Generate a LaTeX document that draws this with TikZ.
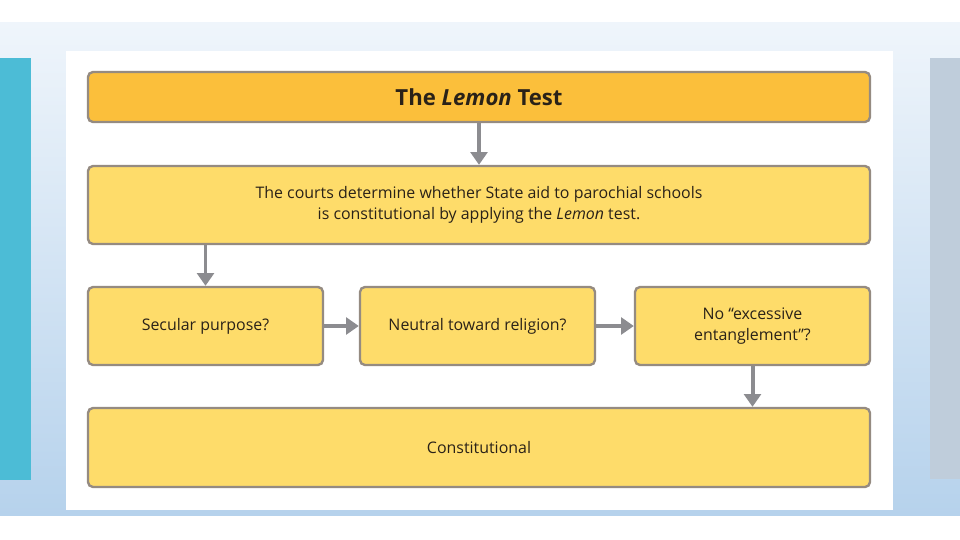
\documentclass[tikz,border=0pt]{standalone}
\usepackage{fontspec}
\setmainfont{Open Sans}
\usetikzlibrary{arrows.meta,calc}
\definecolor{bgtop}{HTML}{EFF5FB}
\definecolor{bgbot}{HTML}{B6D2EC}
\definecolor{tealbar}{HTML}{4CBCD6}
\definecolor{graybar}{HTML}{BFCDDB}
\definecolor{titlefill}{HTML}{FBBF3B}
\definecolor{boxfill}{HTML}{FEDC6A}
\definecolor{boxline}{HTML}{958B81}
\definecolor{arrowgray}{HTML}{8C8C90}
\definecolor{txt}{HTML}{2A2218}
\begin{document}
\begin{tikzpicture}[x=0.03cm,y=-0.03cm,
  box/.style={draw=boxline, line width=2pt, fill=boxfill, rounded corners=0.15cm,
    text=txt, align=center, font=\fontsize{13.6}{18}\selectfont, inner sep=0pt},
  conn/.style={draw=arrowgray, line width=3.4pt, -{Triangle[length=0.38cm,width=0.5cm]}}]
\useasboundingbox (0,0) rectangle (960,540);
\fill[white] (0,0) rectangle (960,540);
\shade[top color=bgtop, bottom color=bgbot] (0,23) rectangle (960,515);
\fill[tealbar] (0,58) rectangle (31,480);
\fill[graybar] (930,58) rectangle (960,479);
\fill[white] (66,51) rectangle (893,510);
\node[box, fill=titlefill, minimum width=23.46cm, minimum height=1.5cm,
  font=\fontsize{18.9}{22}\selectfont\bfseries] (title) at (479,97) {The \textit{Lemon} Test};
\node[box, minimum width=23.46cm, minimum height=2.34cm] (courts) at (479,205)
  {The courts determine whether State aid to parochial schools\\is constitutional by applying the \textit{Lemon} test.};
\node[box, minimum width=7.05cm, minimum height=2.34cm] (sec) at (205.5,326) {Secular purpose?};
\node[box, minimum width=7.05cm, minimum height=2.34cm] (neu) at (477.5,326) {Neutral toward religion?};
\node[box, minimum width=7.05cm, minimum height=2.34cm] (ent) at (752.5,326) {No “excessive\\entanglement”?};
\node[box, minimum width=23.46cm, minimum height=2.37cm] (con) at (479,447.5) {Constitutional};
\draw[conn] (title.south) -- (courts.north);
\draw[conn] (sec.north |- courts.south) -- (sec.north);
\draw[conn] (sec.east) -- (neu.west);
\draw[conn] (neu.east) -- (ent.west);
\draw[conn] (ent.south) -- (ent.south |- con.north);
\end{tikzpicture}
\end{document}
